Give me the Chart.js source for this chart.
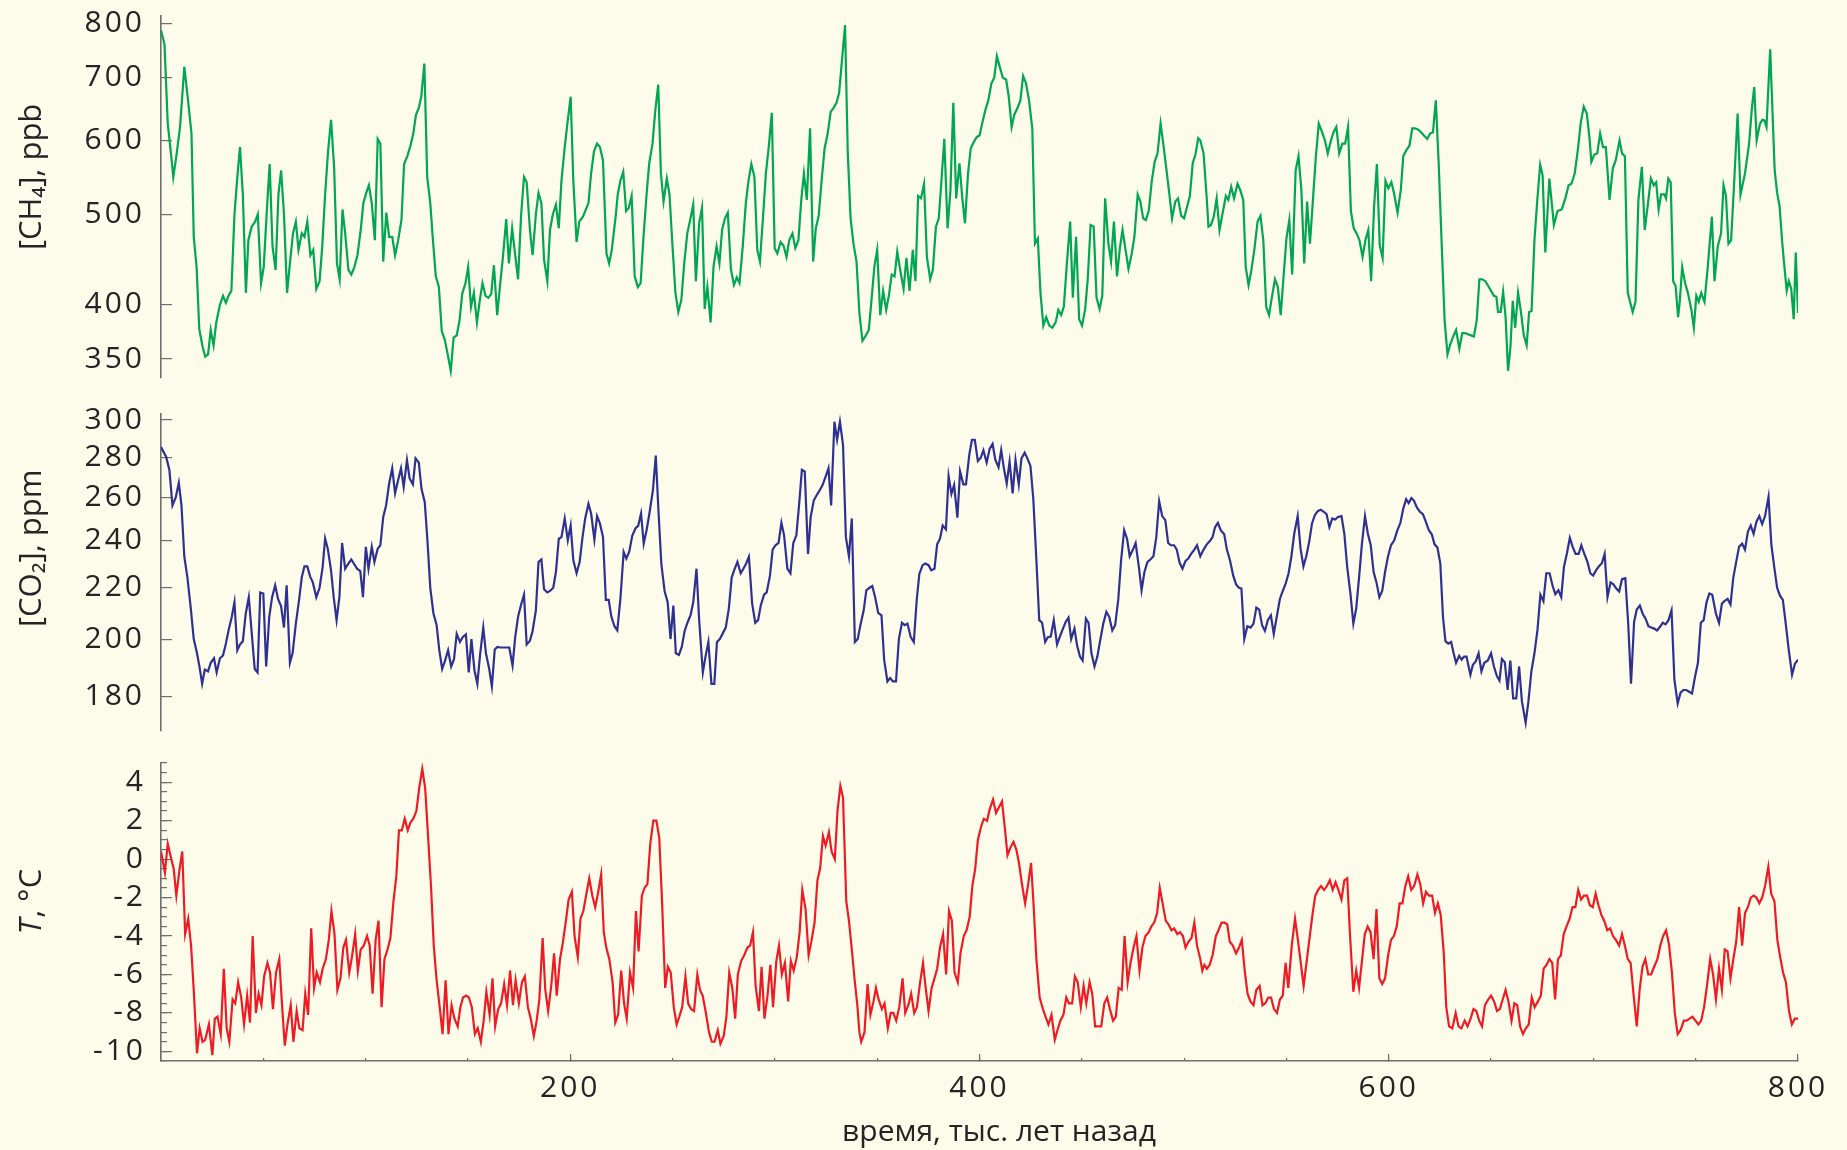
<!DOCTYPE html>
<html><head><meta charset="utf-8">
<script src="https://cdn.jsdelivr.net/npm/chart.js@4.4.1/dist/chart.umd.min.js"></script>
<style>
html,body{margin:0;padding:0;background:#fdfbea;}
#wrap{position:relative;width:1847px;height:1150px;background:#fdfbea;overflow:hidden;}
canvas{position:absolute;left:0;}
</style></head><body><div id="wrap">
<canvas id="c1" width="1847" height="400" style="top:0;width:1847px;height:400px"></canvas>
<canvas id="c2" width="1847" height="340" style="top:400px;width:1847px;height:340px"></canvas>
<canvas id="c3" width="1847" height="410" style="top:740px;width:1847px;height:410px"></canvas>
</div>
<script>
// [time (thousand years ago), value]
const ch4Data = [[0,787],[1.7,760],[3.3,625],[5,577],[6,548],[7.5,577],[9.3,620],[11.4,719],[12.9,672],[14.9,610],[16,473],[17.4,439],[18.7,377],[20.3,361],[21.6,352],[23,354],[24.3,376],[25.7,362],[27,383],[28.8,400],[30.3,409],[31.7,402],[33,409],[34.4,414],[35.9,500],[37.3,548],[38.6,590],[40,525],[41.5,412],[42.7,469],[44.3,485],[46,491],[47.3,500],[48.9,422],[50.2,439],[51.8,508],[53.1,566],[54.5,462],[56,436],[57.4,525],[58.7,557],[60.1,500],[61.6,412],[63,443],[64.5,477],[65.9,491],[67.2,458],[68.8,477],[70.1,473],[71.5,491],[73,452],[74.4,458],[75.9,416],[77.5,424],[78.8,462],[80.2,525],[81.7,586],[83.1,631],[84.6,562],[86,443],[87.3,426],[88.7,506],[90,477],[91.6,436],[93,431],[94.5,439],[96,452],[97.6,481],[98.9,514],[100.3,527],[101.6,537],[103,514],[104.5,469],[105.9,602],[107.2,595],[108.6,445],[110.1,502],[111.5,473],[113,473],[114.4,452],[115.9,469],[117.5,493],[118.8,566],[120.4,577],[121.9,592],[123.3,610],[124.6,639],[126,650],[127.2,668],[128.7,725],[130.1,548],[131.6,514],[132.9,469],[134.3,429],[135.8,418],[137.2,375],[138.7,367],[140.1,354],[141.6,340],[143,369],[144.5,371],[145.9,385],[147.2,411],[148.8,422],[150.1,439],[151.5,398],[152.9,412],[154.4,383],[155.7,403],[157.1,422],[158.6,409],[160,407],[161.4,411],[162.7,441],[164.3,390],[165.8,422],[167.1,450],[168.7,494],[170,443],[171.6,483],[173,454],[174.5,426],[176,500],[177.4,548],[178.7,541],[180.3,481],[181.6,452],[183.2,500],[184.5,527],[185.9,514],[187.2,447],[188.8,424],[190.1,481],[191.5,500],[193,512],[194.4,483],[195.7,543],[197.3,590],[198.6,625],[200.2,668],[201.5,543],[203.1,467],[204.4,491],[206.2,497],[208.9,514],[210.2,553],[211.6,584],[213.1,595],
[214.5,590],[216,571],[217.7,454],[219,443],[220.3,458],[222.3,500],[223.2,525],[224.5,543],[225.9,555],[227.3,504],[228.6,508],[230,523],[231.5,429],[233,418],[234.4,422],[235.8,473],[237.3,525],[238.6,567],[240.2,595],[241.6,647],[243,688],[244.3,553],[245.6,516],[247.2,546],[248.5,525],[249.9,465],[251.4,412],[252.8,393],[254.3,405],[255.7,443],[257.2,477],[258.6,493],[260.1,512],[261.4,424],[263,489],[264.4,508],[265.7,396],[267,418],[268.6,383],[270,439],[271.5,462],[272.9,443],[274.2,481],[275.6,495],[277,502],[278.5,437],[280,420],[281.4,428],[282.7,422],[284.3,462],[285.8,514],[287.1,543],[288.5,566],[290,548],[291.4,458],[292.7,445],[294.3,500],[295.6,553],[297,590],[298.5,642],[299.9,460],[301.2,454],[302.8,467],[304.2,463],[305.7,450],[307,469],[308.6,477],[310,460],[311.5,469],[312.9,518],[314.2,553],[315.6,518],[317.2,618],[318.7,445],[320,483],[321.4,498],[323,548],[324.3,588],[325.8,610],[327.3,644],[328.7,650],[330.1,658],[331.4,674],[332.8,731],[334.3,797],[335.6,584],[337,495],[338.4,465],[339.9,445],[341.3,392],[342.8,366],[344.2,370],[345.9,376],[347.1,402],[348.6,439],[350,458],[351.5,390],[352.9,414],[354.4,395],[355.7,409],[357.1,431],[358.5,429],[359.8,456],[361.4,434],[362.9,416],[364.3,449],[365.8,414],[367.4,458],[368.7,424],[370,523],[371.4,520],[372.9,539],[374.3,450],[375.9,426],[377.2,436],[378.7,485],[380.1,495],[381.4,543],[382.8,602],[384.4,483],[385.8,530],[387.2,658],[388.6,520],[390.2,567],[391.6,520],[392.9,489],[394.4,553],[395.7,588],[397.3,598],[398.7,605],[400,607],[401.5,628],[402.9,647],[404.3,662],[405.8,690],[407.2,700],[408.5,738],[409.9,719],[411.4,700],[413,697],[414.3,668],[415.7,620],[417,639],[418.6,650],[420,662],[421.3,703],[422.7,691],[424.2,662],[425.8,618],[427.1,465],[428.5,471],[429.8,412],[431.2,380],[432.6,388],[434.1,380],[435.6,378],[437.2,383],[438.5,395],[439.9,390],[441.2,398],[442.7,443],[444.3,491],[445.6,407],[447.2,473],[448.7,386],[450.1,380],[451.6,395],[452.9,426],[454.3,487],[455.8,485],[457.2,407],[458.7,396],[460,409],[461.4,520],[463,465],[464.3,445],[465.7,491],[467.2,429],[468.6,460],[469.9,481],[472.8,437],[474.4,454],[475.7,473],[477.3,525],[478.6,516],[480,495],[481.3,493],[482.7,504],[484.2,543],[485.6,569],[487,581],[488.5,625],[489.8,595],[491.4,557],[492.8,525],[494.1,495],[495.7,516],[497,520],[498.6,498],[500,495],[501.3,508],[502.8,523],[504.2,567],[505.5,579],[506.9,603],
[507.9,600],[509.5,581],[511.1,518],[511.9,485],[513.1,487],[514.5,497],[515.9,520],[517.3,481],[518.7,500],[520.4,523],[521.6,518],[523,535],[524.4,520],[526.1,539],[527.4,531],[528.9,518],[530.1,439],[531.5,420],[532.9,436],[534.3,458],[535.9,491],[537.3,498],[538.7,469],[540.1,398],[541.5,390],[543,409],[544.4,426],[545.8,418],[547.2,390],[548.6,429],[550,471],[551.4,493],[552.8,431],[554.5,557],[555.9,577],[557.3,531],[558.7,443],[560.1,516],[561.5,465],[563,520],[564.4,577],[565.8,625],[567.2,614],[568.8,600],[570.2,581],[571.6,598],[573,612],[574.4,620],[575.8,581],[577.3,595],[578.7,595],[580.1,620],[581.5,504],[582.9,483],[584.3,477],[585.7,469],[587.2,450],[588.6,469],[590,481],[591.4,424],[592.8,508],[594.2,566],[595.6,463],[597,449],[598.4,543],[599.8,533],[601.3,541],[602.7,525],[604.3,502],[605.9,531],[607.1,577],[608.7,586],[610.1,592],[611.5,618],[612.9,618],[614.4,616],[615.8,612],[617.2,607],[618.8,602],[620.2,610],[621.6,612],[623,662],[624.4,567],[625.8,469],[627.3,385],[628.7,354],[630.1,363],[631.5,370],[632.9,376],[634.5,359],[635.9,373],[637.3,373],[638.7,372],[640.2,371],[641.6,370],[643,385],[644.3,426],[645.7,426],[647.2,424],[648.6,419],[650,414],[651.4,409],[652.6,408],[653.4,393],[654.7,393],[655.9,413],[657.1,388],[658.3,340],[659.5,361],[660.6,404],[661.8,378],[663.2,412],[664.6,393],[666,371],[667.4,362],[668.6,393],[669.8,394],[671.2,469],[672.6,518],[674,565],[675.2,550],[676.5,455],[678.5,546],[680.7,487],[682.5,504],[684.5,506],[686.3,520],[687.9,537],[689.3,539],[690.9,553],[692.5,588],[693.9,628],[695.3,652],[696.8,641],[698.2,600],[699,569],[700.4,579],[701.9,581],[703.3,610],[704.7,590],[706.1,590],[707.9,518],[709.5,560],[710.9,571],[712.8,600],[714,581],[715.4,577],[716.8,412],[719.2,393],[720.6,403],[722,518],[723.7,562],[725.1,481],[726.7,514],[728.1,546],[729.5,537],[730.7,541],[731.9,506],[733.1,525],[734.7,525],[735.5,520],[736.6,546],[737.8,541],[739,424],[740.2,419],[741.4,388],[742.2,403],[743.4,439],[744.8,422],[746.2,412],[747.9,395],[749.1,378],[750.3,409],[751.5,403],[752.7,412],[754.3,403],[755.9,439],[757.9,497],[759.2,424],[760.8,462],[762.4,477],[763.6,537],[764.8,523],[766,465],[767.3,469],[768.5,525],[770.5,641],[771.9,525],[774.1,553],[776.1,595],[777.4,647],[778.6,684],[779.8,600],[781.4,625],[782.6,631],[783.6,630],[784.6,620],[786.4,751],[788.6,557],[789.8,527],[791,510],[792.2,469],[793.2,443],[794.5,414],[795.5,424],[796.7,416],[797.9,386],[798.9,455],[800,392]];

const co2Data = [[0,285.4],[2.5,280.4],[4.1,273.6],[5.6,256.2],[7.2,260],[8.7,267.1],[10,256.2],[11.4,233],[12.9,224.3],[14.5,212.3],[16,200.1],[17.6,194.9],[18.9,189.7],[20.1,184.2],[21.4,189.1],[23,188.5],[24.3,191.5],[25.9,193.1],[27.2,188.1],[28.8,193.1],[30.3,194.1],[31.7,198.4],[33,203.3],[34.6,208.5],[35.9,214.2],[37.3,196],[38.6,198.1],[40,199.3],[41.4,209.7],[42.9,216.2],[44.3,202.7],[45.8,189.3],[47.2,188.1],[48.5,218.1],[50,217.7],[51.4,190.2],[52.9,208.5],[54.3,216.2],[55.8,221],[57.2,215.5],[58.7,212.6],[60.1,204.4],[61.4,221],[63,191.5],[64.3,194.9],[65.9,205.9],[67.4,214.6],[68.8,224.3],[70.1,228.9],[71.5,228.9],[72.9,224.6],[74.2,222.2],[75.9,216.2],[77.5,220],[79,228.6],[80.2,241],[81.5,236.5],[83.1,227.2],[84.4,216.2],[85.8,207.2],[87.2,216.4],[88.5,239],[90,227.9],[91.4,229.8],[93,231.8],[94.3,230],[95.8,227.9],[97.4,226.9],[98.7,216.2],[100.1,237.3],[101.4,227.9],[103,237.3],[104.3,230.8],[105.9,236.5],[107.2,238],[108.6,250.8],[110,256.2],[111.5,266.8],[113,274.4],[114.4,262],[115.9,268.5],[117.3,274.4],[118.6,265.1],[120.2,278.6],[121.5,269.3],[123.1,266.4],[124.4,279.5],[126,277.3],[127.3,264.2],[128.9,257.7],[130.2,240.2],[131.6,220],[133.1,210],[134.7,205.3],[136,196],[137.4,189.3],[138.7,192],[140.3,196],[141.8,190.2],[143.2,192.8],[144.5,202],[146.1,199],[147.4,200.8],[149,201.8],[150.4,188.1],[151.7,200.1],[153.2,188.8],[154.6,184.2],[156,194.9],[157.5,204.4],[158.8,194.9],[160.4,189.3],[161.7,183.3],[163.1,196.3],[164.4,197.2],[166,197],[167.3,197],[168.9,197],[170.2,197],[171.8,190.5],[173.1,200.8],[174.5,208.5],[176,213.3],[177.4,217.2],[178.7,198.1],[180.3,199.5],[181.6,203.1],[183.2,211],[184.5,230.8],[185.9,231.8],[187.2,219.4],[188.8,218.1],[190.1,218.7],[191.7,220],[193,226.5],[194.4,240.9],[195.7,241.6],[197.3,250.1],[198.8,240.2],[200.2,246.9],[201.5,231.5],[203.1,226],[204.6,230.8],[206,241.6],[207.3,250.1],[208.9,257],[210.2,252.4],[211.8,240.5],[213.1,251.2],
[214.5,247.8],[216,241.7],[217.4,215.1],[218.8,215.1],[220.1,208.5],[221.6,204.9],[223,203.3],[224.5,215.5],[226.1,235.1],[227.4,232.2],[228.8,235.1],[230.3,242.2],[231.9,245.6],[233.2,246.7],[234.6,252.4],[235.9,238.7],[237.3,244.7],[238.8,253.1],[240.4,263.5],[241.8,280.9],[243.1,253.9],[244.5,230.1],[246.1,218.7],[247.6,214.2],[249,200.1],[250.4,212.9],[251.6,194.9],[253.1,194.3],[254.5,197.2],[255.9,203.1],[257.4,206.5],[258.8,209.1],[260.1,214.2],[261.7,227.9],[263,207.2],[264.8,188.1],[266.1,193.7],[267.5,199],[269,184.2],[270.4,184.2],[271.7,199],[273.1,200.1],[274.6,202.3],[276,204.4],[277.5,211.7],[278.9,224.3],[280.4,227.9],[281.7,230.8],[283.3,226],[284.6,227.9],[285.9,230],[287.3,233],[288.9,213.6],[290.4,206.2],[291.8,207.2],[293.1,212.9],[294.7,217.2],[296,218.1],[297.6,225],[298.9,236.1],[300.3,238],[301.8,239],[303.2,248.1],[304.5,242.4],[306.1,227.9],[307.6,226],[309,239],[310.5,242.4],[311.9,257.3],[313.2,273.6],[314.6,272.8],[316.2,234.2],[317.5,250.8],[319,258.5],[320.6,261.4],[321.9,263.5],[323.3,266],[324.8,270.2],[326.2,274.4],[327.5,256.2],[329.1,299.1],[330.4,289.3],[331.8,299.1],[333.3,286.6],[334.7,241.6],[336.2,233.2],[337.6,250.1],[339.1,199],[340.5,200.1],[341.8,205.3],[343.4,211],[344.7,219],[346.3,220],[347.6,220.7],[349,216.2],[350.5,210],[352.1,209.1],[353.4,192.6],[355,185],[356.3,186.2],[357.7,185],[359.2,185],[360.6,200.1],[362.1,206.2],[363.5,205.3],[364.8,205.9],[366.4,200.8],[367.9,199],[369.3,214.9],[370.6,225.7],[372.2,229.4],[373.5,230.1],[375.1,229.4],[376.4,227.2],[378,227.9],[379.3,238.4],[380.7,240.9],[382,246.9],[383.6,245.1],[384.9,270.5],[386.3,261.7],[387.6,266],[389.2,250.5],[390.5,272.8],[392.1,266.4],[393.4,266.4],[395,281.3],[396.3,289.3],[397.7,289.3],[399.2,278.1],[400.6,279.8],[401.9,283.7],[403.5,277.3],[405,284.6],[406.4,287.1],[407.7,278.9],[409.3,274.9],[410.6,283.8],[412,273.9],[413.3,266.8],[414.7,277.8],[416.2,262],[417.6,278.6],[419.2,266.4],[420.5,279.5],[422.1,282.5],[423.4,279.5],[424.9,275.6],[426.3,259.2],[427.8,231.5],[429.2,207.2],[430.6,206.2],[432.1,199],[433.4,200.8],[434.8,201],[436.3,207.2],[437.9,198.1],[439.2,200.8],[440.6,203.6],[442.1,206.5],[443.5,208.2],[444.8,200.1],[446.4,204],[447.7,197.7],[449.1,193.7],[450.4,192.3],[452,207.8],[453.3,206.2],[454.7,194.9],[456.2,190.2],[457.6,193.7],[459.1,200.1],[460.5,205.9],[462,210.4],[463.4,208.5],[464.9,203.3],[466.3,205.3],[467.8,215.1],[469.2,231.5],[470.7,244.7],[472.1,240.9],[473.4,233.2],[475,236.1],[476.3,239],[477.9,228.6],[479.2,219],[480.6,226.5],[482.1,230.8],[483.5,231.8],[485,233.2],[486.4,241.6],[487.8,258.2],[489.3,251.2],[490.8,249.3],[492.2,239],[493.5,238],[495.1,238],[496.4,236.1],[497.8,230.4],[499.2,227.9],[500.7,231.2],[502,232.2],[503.4,234.2],[505,236.1],[506.3,238],
[507.9,233.2],[509.5,236.1],[511.1,238.4],[512.7,240],[513.9,241.6],[515.1,246.1],[516.5,248.1],[517.9,244.7],[519.6,242.9],[520.9,236.1],[522.4,231.5],[524,225],[525.4,221.4],[526.8,220],[528,219.7],[529.4,200.1],[530.9,204.9],[532.5,204.4],[533.9,205.9],[535.3,212.1],[536.7,211.3],[538.1,205.3],[539.5,203.1],[540.9,207.2],[542.4,209.1],[543.8,202],[545.4,209.1],[546.8,215.5],[548.2,218.7],[549.6,221.7],[551,225.8],[552.4,233],[553.8,243.1],[555.5,251.2],[556.9,236.5],[558.3,228.9],[559.7,233.2],[561.1,239.4],[562.5,247.8],[563.9,251.7],[565.4,253.6],[566.8,254.2],[568.4,253.1],[569.6,252.1],[571,246.1],[572.4,250.1],[573.8,249.6],[575.2,250.8],[576.9,251.2],[578.3,243.1],[579.7,228.6],[581.3,217.4],[582.7,205.9],[584.1,211.7],[585.5,224.3],[586.9,238.7],[588.4,251.2],[589.8,243.1],[591.2,238],[592.6,226.5],[594,222.2],[595.4,216.2],[596.8,218.7],[598.2,226.5],[599.6,233],[601.1,238],[602.7,240.2],[604.1,244.4],[605.7,248.1],[607.1,254.7],[608.5,259.2],[609.7,257.3],[611.1,259.7],[612.3,258.5],[613.8,255.1],[615.3,253.1],[616.7,252.1],[618.1,248.6],[619.6,244.7],[621,242.9],[622.4,238.4],[623.8,237],[625.2,230.1],[626.5,208.5],[627.7,199.3],[629.1,198.4],[630.5,199],[631.7,194.9],[632.9,191.5],[634.4,194],[635.6,192.6],[636.8,193.7],[638,193.7],[639.9,187.3],[641.1,190.8],[642.5,192],[643.9,194.9],[645.3,188.5],[646.7,191.5],[648.4,192.3],[650,194.9],[651.4,190.2],[652.8,186.9],[654.1,185.3],[655.3,192.8],[656.7,191.7],[658.1,182.1],[659.4,192.3],[660.8,179.3],[662.3,179.3],[663.7,190.2],[665.1,178.2],[666.9,171.4],[668.2,177.9],[669.7,188.5],[671.2,194.9],[672.7,203.6],[674.1,217.2],[675.6,214.6],[677,226],[678.6,226],[680.1,220.7],[681.4,217.4],[682.9,219],[684.3,216.2],[685.6,228.6],[687.1,234.6],[688.5,241.3],[689.9,237.3],[691.3,234.2],[692.8,234.2],[694.1,238],[695.5,234.5],[697.1,230.8],[698.5,226],[699.9,225],[701.3,227.2],[702.7,228.9],[704.1,230.1],[705.5,234.2],[706.9,216.2],[708.4,222.2],[709.8,221.4],[711.2,219.7],[712.6,218.5],[714,223.5],[715.6,223.9],[717,206.2],[718.4,184.2],[719.9,206.5],[721.2,211.3],[722.7,212.9],[724.1,209.7],[725.5,207.8],[726.9,204.9],[728.3,204.4],[729.7,204],[731.1,203.3],[732.5,204.6],[733.9,206.2],[735.3,205.6],[736.7,207.2],[738.2,211],[739.6,185.6],[741.2,177.6],[742.6,181.2],[744,182.1],[745.4,182.1],[746.8,181.5],[748.2,180.9],[749.7,186.7],[751.1,191.5],[752.5,206.2],[753.9,207.2],[755.3,214.2],[756.7,217.7],[758.1,217.2],[759.9,209.7],[761.4,206.2],[762.8,213.6],[764,214.6],[765.6,215.5],[767,213.3],[768.4,224.3],[769.8,230.8],[771.2,237.3],[772.7,238.7],[774.1,236.1],[775.5,244],[776.9,246.9],[778.3,243.1],[779.7,248.6],[781.1,251.2],[782.5,247.5],[783.9,251.2],[785.6,260.3],[787,238],[788.4,228.6],[789.8,220],[791.2,216.8],[792.6,215.1],[794,205.9],[795.5,196],[797.1,187.3],[798.5,191.2],[800,192.6]];

const tempData = [[0,0.4],[1.9,-0.7],[3.3,0.8],[4.6,0.2],[6.2,-0.5],[7.5,-1.9],[9.1,-0.5],[10.4,0.4],[11.8,-3.9],[13.3,-3.1],[14.7,-4.5],[16,-6.8],[17.6,-10.1],[18.9,-8.8],[20.3,-9.5],[21.6,-9.4],[23.4,-8.6],[25.1,-10.2],[26.3,-8.3],[27.6,-8.2],[29.2,-9.1],[30.7,-5.7],[32.1,-8.8],[33.4,-9.5],[35,-7.3],[36.3,-7.5],[37.7,-6.4],[39.2,-7.2],[40.6,-8.6],[42.1,-7.1],[43.5,-8.5],[44.8,-4.0],[46.4,-8.0],[47.7,-7.0],[49.1,-7.6],[50.4,-6.1],[52,-5.4],[53.3,-5.9],[54.7,-7.8],[56.2,-5.9],[57.8,-5.2],[59.1,-7.5],[60.5,-9.7],[61.8,-8.6],[63.4,-7.6],[64.7,-9.5],[66.3,-7.9],[67.6,-8.8],[69.2,-8.9],[70.5,-7.0],[71.9,-8.1],[73.4,-3.6],[74.8,-6.7],[76.1,-5.9],[77.7,-6.4],[79,-5.7],[80.6,-5.2],[82,-4.2],[83.3,-2.7],[84.8,-3.9],[86.2,-6.8],[87.7,-6.2],[89.1,-4.6],[90.4,-4.2],[92,-5.9],[93.3,-5.1],[94.9,-3.9],[96.2,-5.8],[97.6,-4.7],[99.1,-4.5],[100.7,-4.0],[102,-4.5],[103.4,-7.0],[104.9,-4.2],[106.3,-3.2],[107.8,-7.7],[109.2,-5.2],[110.7,-4.7],[112.1,-4.1],[113.6,-2.2],[115,-0.9],[116.3,1.5],[117.7,1.5],[119.1,2.1],[120.6,1.5],[121.9,1.9],[123.3,2.1],[124.8,2.5],[126.2,3.7],[127.7,4.7],[129.1,3.7],[130.4,1.4],[132,-1.5],[133.3,-4.5],[134.7,-6.3],[136.2,-7.7],[137.6,-9.1],[139.1,-6.3],[140.5,-9.1],[142,-7.6],[143.4,-8.3],[145,-8.7],[146.3,-7.7],[147.6,-7.2],[149.2,-7.1],[150.5,-7.2],[151.9,-7.7],[153.4,-9.1],[154.8,-8.8],[156.3,-9.5],[157.7,-8.4],[159,-6.9],[160.6,-8.1],[162,-6.2],[163.3,-8.7],[164.8,-7.8],[166.2,-7.5],[167.7,-6.5],[169.1,-7.6],[170.6,-5.8],[172,-7.6],[173.3,-6.3],[174.9,-7.5],[176.4,-6.4],[177.8,-6.1],[179.3,-7.7],[180.7,-8.3],[182.2,-9.2],[183.6,-8.4],[184.9,-7.3],[186.5,-4.1],[187.8,-6.8],[189.2,-7.9],[190.7,-6.6],[192.1,-4.9],[193.4,-7.1],[195,-5.2],[196.3,-4.4],[197.9,-3.2],[199.2,-2.1],[200.8,-1.7],[202.1,-4.0],[203.7,-5.1],[205,-3.1],[206.4,-2.7],[207.9,-1.8],[209.3,-1.0],[210.8,-1.9],[212.2,-2.5],[213.5,-1.8],[215.1,-0.8],
[216.4,-3.8],[217.6,-4.6],[219.1,-5.2],[220.7,-6.4],[222,-8.5],[223.4,-8.1],[224.9,-5.8],[226.3,-7.5],[227.6,-8.3],[229.2,-5.9],[230.7,-6.7],[232.1,-2.7],[233.4,-4.8],[235,-1.9],[236.3,-1.5],[237.7,-1.3],[239.1,0.8],[240.6,2.0],[242.1,2.0],[243.5,1.1],[244.9,-2.3],[246.4,-6.7],[247.7,-5.6],[249.1,-5.9],[250.6,-7.7],[252,-8.6],[253.3,-8.2],[254.7,-7.7],[256.3,-6.1],[257.6,-7.5],[259,-7.8],[260.5,-7.9],[262.1,-6.0],[263.4,-6.8],[264.7,-7.1],[266.3,-8.0],[267.8,-9.0],[269.2,-9.5],[270.5,-9.5],[272.1,-8.9],[273.4,-9.6],[275,-9.2],[276.3,-8.2],[277.7,-5.9],[279.2,-6.7],[280.6,-8.3],[281.9,-6.0],[283.5,-5.3],[285,-5.0],[286.6,-4.6],[287.9,-4.5],[289.3,-3.8],[290.6,-6.6],[292.2,-7.9],[293.5,-5.6],[294.9,-8.3],[296.4,-7.1],[297.8,-5.5],[299.1,-7.7],[300.7,-5.3],[302,-4.5],[303.4,-6.0],[304.9,-5.4],[306.5,-7.4],[307.8,-5.3],[309.2,-5.8],[310.7,-5.1],[312.1,-3.8],[313.4,-1.6],[315,-2.6],[316.5,-5.0],[317.8,-4.3],[319.4,-3.3],[320.8,-1.1],[322.1,-0.5],[323.5,1.2],[324.8,0.7],[326.4,1.4],[327.7,0.4],[329.3,0.0],[330.6,2.5],[332,3.8],[333.3,3.2],[334.9,-2.2],[336.2,-3.2],[337.6,-4.7],[339,-6.3],[340.3,-7.6],[341.3,-9.0],[342.2,-9.5],[343.8,-9.0],[345.3,-6.5],[346.7,-8.1],[348.2,-7.4],[349.4,-6.7],[350.7,-7.3],[352.3,-7.8],[353.6,-7.5],[355.2,-8.8],[356.6,-8.0],[357.9,-8.0],[359.3,-8.4],[360.8,-7.7],[362.4,-6.2],[363.7,-8.0],[365.2,-7.6],[366.6,-7.0],[368.1,-8.0],[369.4,-7.7],[371,-6.4],[372.4,-5.4],[373.7,-6.7],[375.1,-7.9],[376.6,-6.7],[378,-6.2],[379.3,-5.7],[380.7,-4.6],[382.2,-3.9],[383.7,-6.0],[385.1,-2.7],[386.5,-3.2],[387.8,-5.9],[389.4,-6.4],[390.7,-4.9],[392.3,-4.0],[393.7,-3.7],[395.2,-3.0],[396.5,-1.4],[397.9,-0.5],[399.2,1.0],[400.8,1.7],[402.1,2.1],[403.7,2.0],[405,2.6],[406.6,3.1],[408.1,2.4],[409.5,2.7],[411,3.0],[412.4,1.6],[413.7,0.2],[415.1,0.6],[416.6,0.9],[418,0.5],[419.3,-0.2],[420.9,-1.4],[422.3,-2.3],[423.8,-1.3],[425.2,-0.2],[426.5,-2.5],[427.8,-5.2],[429.4,-7.2],[431,-7.8],[432.3,-8.2],[433.7,-8.6],[435.2,-8.1],[436.8,-9.4],[438.1,-8.9],[439.5,-8.4],[441,-8.1],[442.4,-7.2],[443.7,-7.5],[445.3,-7.5],[446.6,-6.1],[448,-6.4],[449.5,-7.7],[450.9,-6.6],[452.2,-7.5],[453.8,-6.4],[455.1,-7.0],[456.5,-8.7],[458,-8.7],[459.5,-8.7],[461,-7.5],[462.4,-7.2],[463.7,-7.8],[465.3,-8.4],[466.6,-8.2],[468,-6.7],[469.5,-6.8],[470.9,-4.0],[472.4,-6.4],[473.8,-5.4],[475.3,-4.6],[476.7,-4.0],[478.2,-5.8],[479.6,-4.6],[481.1,-4.0],[482.7,-3.8],[484,-3.5],[485.4,-3.3],[486.8,-2.8],[488.1,-1.5],[489.5,-2.3],[491,-3.2],[492.4,-3.4],[493.8,-3.7],[495.1,-3.6],[496.7,-3.9],[498,-3.8],[499.4,-4.0],[500.7,-4.6],[502.1,-4.3],[503.6,-4.1],[505,-3.3],[506.3,-4.5],
[507.9,-5.2],[508.9,-5.8],[509.9,-5.5],[511.1,-5.7],[512.5,-5.5],[513.9,-5.0],[515.5,-4.0],[516.8,-3.7],[518.3,-3.3],[519.7,-3.3],[521.1,-3.4],[522.3,-4.3],[523.8,-4.5],[525.4,-4.9],[526.8,-4.6],[528.2,-4.2],[529.6,-5.8],[531,-7.0],[532.4,-7.4],[533.9,-7.6],[535.3,-6.8],[536.9,-6.6],[538.3,-7.6],[539.7,-7.5],[541.1,-7.2],[542.5,-7.2],[543.9,-7.8],[545.4,-8.0],[546.8,-7.3],[548.2,-7.1],[549.6,-5.4],[550.9,-6.7],[552.6,-4.5],[554.2,-3.1],[555.6,-4.2],[557,-5.4],[558.4,-6.6],[559.9,-5.3],[561.3,-4.1],[562.7,-2.9],[564.1,-1.9],[565.5,-1.6],[566.9,-1.4],[568.4,-1.6],[569.8,-1.4],[571.2,-1.1],[572.6,-1.6],[574,-1.2],[575.4,-1.6],[576.9,-2.1],[578.3,-1.1],[579.7,-1.0],[581.1,-4.0],[582.7,-6.9],[584.1,-5.8],[585.5,-6.7],[586.9,-5.3],[588.3,-3.9],[589.7,-3.5],[591.1,-3.8],[592.6,-5.2],[594,-2.6],[595.4,-6.2],[596.8,-6.5],[598.2,-6.2],[599.7,-5.0],[601.1,-4.2],[602.5,-4.0],[603.9,-3.5],[605.3,-2.3],[606.7,-2.3],[608.1,-1.4],[609.5,-0.9],[611,-1.6],[612.4,-1.4],[614,-0.8],[615.4,-1.3],[616.8,-2.3],[618.2,-1.7],[619.6,-1.9],[621.2,-1.9],[622.6,-2.8],[624,-2.3],[625.4,-2.9],[626.9,-4.9],[628.1,-7.7],[629.5,-8.7],[631.1,-8.8],[632.7,-8.0],[634.1,-8.7],[635.5,-8.8],[637.1,-8.4],[638.5,-8.7],[640,-8.3],[641.4,-7.8],[642.8,-7.9],[644.2,-8.4],[645.6,-8.7],[647,-7.6],[648.6,-7.3],[650,-7.1],[651.5,-7.4],[652.9,-7.9],[654.3,-7.8],[655.7,-7.3],[657.1,-6.8],[658.5,-7.4],[660,-8.4],[661.4,-7.5],[662.8,-7.6],[664.2,-8.7],[665.6,-9.1],[667,-8.8],[668.4,-8.6],[669.9,-7.2],[671.3,-7.7],[672.9,-7.4],[674.3,-7.1],[675.7,-5.7],[677.1,-5.5],[678.5,-5.2],[679.9,-5.4],[681.3,-7.3],[682.7,-5.2],[684.1,-5.0],[685.5,-3.9],[686.9,-3.5],[688.4,-3.1],[689.8,-2.5],[691.2,-2.5],[692.6,-1.6],[694,-2.1],[695.4,-1.9],[696.9,-1.9],[698.3,-2.4],[699.7,-2.5],[701.1,-1.8],[702.5,-2.4],[703.9,-2.9],[705.3,-3.2],[706.8,-3.7],[708.2,-3.6],[709.6,-4.0],[711,-4.2],[712.6,-4.5],[714,-3.9],[715.4,-4.5],[716.8,-5.2],[718.2,-5.4],[719.6,-7.0],[721.2,-8.7],[722.6,-6.8],[724,-5.6],[725.4,-5.2],[726.8,-6.0],[728.2,-6.0],[729.7,-5.6],[731.3,-5.2],[732.7,-4.5],[734.1,-4.0],[735.5,-3.7],[736.9,-4.4],[738.4,-5.9],[739.8,-8.0],[741.2,-9.1],[742.6,-8.9],[744.2,-8.4],[745.6,-8.4],[747,-8.3],[748.4,-8.2],[749.9,-8.4],[751.3,-8.6],[752.7,-8.4],[754.1,-7.7],[755.5,-6.6],[757.1,-5.2],[758.5,-6.0],[759.9,-7.3],[761.4,-5.7],[762.8,-6.8],[764.2,-4.7],[765.6,-4.8],[767,-6.2],[768.4,-5.2],[769.8,-4.3],[771.2,-2.5],[772.7,-4.5],[774.1,-2.8],[775.5,-2.5],[776.9,-2.0],[778.3,-1.9],[779.7,-2.0],[781.1,-2.3],[782.5,-2.0],[783.9,-1.4],[785.5,-0.4],[786.9,-1.8],[788.5,-2.2],[789.9,-4.2],[791.3,-5.1],[792.7,-5.9],[794.1,-6.4],[795.6,-7.9],[797,-8.6],[798.4,-8.3],[800,-8.3]];

const ch4Ticks = [350, 400, 500, 600, 700, 800];
const co2Ticks = [180, 200, 220, 240, 260, 280, 300];
const tempTicks = [-10, -8, -6, -4, -2, 0, 2, 4];
const tempMinorTicks = [-10.5,-10,-9.5,-9,-8.5,-8,-7.5,-7,-6.5,-6,-5.5,-5,-4.5,-4,-3.5,-3,-2.5,-2,-1.5,-1,-0.5,0,0.5,1,1.5,2,2.5,3,3.5,4,4.5,5];
const timeTicks = [0, 200, 400, 600, 800];
const timeMinorTicks = [0,50,100,150,200,250,300,350,400,450,500,550,600,650,700,750,800];
const xTitle = 'время, тыс. лет назад';
const ch4Title = '[CH₄], ppb';
const co2Title = '[CO₂], ppm';
const tempTitle = 'T, °C';

const FONT = "'Open Sans', 'DejaVu Sans', sans-serif";
const TEXT = '#262324';
const AXIS = '#6f6f6f';
Chart.defaults.font.family = FONT;
Chart.defaults.color = TEXT;

const pts = arr => arr.map(p => ({x: p[0], y: p[1]}));
const setTicks = list => (s => { s.ticks = list.map(v => ({value: v})); });

// wider digit spacing for tick labels
function spaced(s) {
  if (s._spacedLabels) return;
  s._spacedLabels = true;
  const orig = s.drawLabels;
  s.drawLabels = function (ca) {
    const ctx = this.ctx;
    ctx.save();
    if ('letterSpacing' in ctx) ctx.letterSpacing = '3px';
    orig.call(this, ca);
    ctx.restore();
  };
}

// axis title whose first letter is italic (the symbol T)
function italicSymbolTitle(s, shiftUp) {
  if (s._italicTitle) return;
  s._italicTitle = true;
  s.drawTitle = function () {
    const o = this.options.title;
    const ctx = this.ctx;
    const size = o.font.size;
    const text = String(o.text).trim();
    const first = text.charAt(0), rest = text.slice(1);
    const x = this.left + 14 + size * 1.2 / 2;
    const y = (this.top + this.bottom) / 2;
    ctx.save();
    ctx.translate(x, y);
    ctx.rotate(-Math.PI / 2);
    ctx.textBaseline = 'middle';
    ctx.textAlign = 'left';
    ctx.fillStyle = o.color;
    ctx.font = 'italic ' + size + 'px ' + FONT;
    const w1 = ctx.measureText(first).width;
    ctx.font = size + 'px ' + FONT;
    const w2 = ctx.measureText(rest).width;
    const start = -(w1 + w2) / 2 + shiftUp;
    ctx.font = 'italic ' + size + 'px ' + FONT;
    ctx.fillText(first, start, 0);
    ctx.font = size + 'px ' + FONT;
    ctx.fillText(rest, start + w1 + 1, 0);
    ctx.restore();
  };
}

function lineSet(data, color) {
  return {data: pts(data), borderColor: color, borderWidth: 2.2, pointRadius: 0, tension: 0, fill: false};
}
function yMain(extra) {
  return Object.assign({
    position: 'left', weight: 1,
    afterFit: s => { s.width = 161; s.paddingTop = 0; s.paddingBottom = 0; spaced(s); },
    ticks: {autoSkip: false, padding: 27, font: {size: 30}, color: TEXT, callback: v => String(v)},
    grid: {drawOnChartArea: false, drawTicks: true, tickLength: -11, color: AXIS, lineWidth: 1.2},
    border: {display: true, color: AXIS, width: 1.6}
  }, extra);
}
function titleOpt(text, shift) {
  return {display: true, text: ' '.repeat(shift) + text, color: TEXT, font: {size: 31}, padding: {top: 14, bottom: 0}};
}
const baseOpts = (pad) => ({
  responsive: false, animation: false, devicePixelRatio: 1,
  layout: {padding: pad},
  plugins: {legend: {display: false}, tooltip: {enabled: false}},
  events: []
});

// Panel 1 : CH4
new Chart(document.getElementById('c1'), {
  type: 'line',
  data: {datasets: [lineSet(ch4Data, '#00a651')]},
  options: Object.assign(baseOpts({top: 16, bottom: 22, left: 0, right: 49}), {
    scales: {
      x: {type: 'linear', min: 0, max: 800, display: false},
      y: yMain({type: 'logarithmic', min: 334, max: 815, afterBuildTicks: setTicks(ch4Ticks), title: titleOpt(ch4Title, 5)})
    }
  })
});

// Panel 2 : CO2
new Chart(document.getElementById('c2'), {
  type: 'line',
  data: {datasets: [lineSet(co2Data, '#2e3192')]},
  options: Object.assign(baseOpts({top: 14, bottom: 9, left: 0, right: 49}), {
    scales: {
      x: {type: 'linear', min: 0, max: 800, display: false},
      y: yMain({type: 'logarithmic', min: 168.8, max: 303.4, afterBuildTicks: setTicks(co2Ticks), title: titleOpt(co2Title, 6)})
    }
  })
});

// Panel 3 : temperature
new Chart(document.getElementById('c3'), {
  type: 'line',
  data: {datasets: [lineSet(tempData, '#ed1c24')]},
  options: Object.assign(baseOpts({top: 23, bottom: 0, left: 0, right: 49}), {
    scales: {
      x: {type: 'linear', min: 0, max: 800, position: 'bottom', weight: 1,
          afterBuildTicks: setTicks(timeTicks),
          afterFit: s => { s.height = 89; s.paddingLeft = 0; s.paddingRight = 0; spaced(s); },
          ticks: {autoSkip: false, maxRotation: 0, padding: 16, font: {size: 30}, color: TEXT, callback: v => (v === 0 ? '' : String(v))},
          grid: {drawOnChartArea: false, drawTicks: true, tickLength: -7, color: AXIS, lineWidth: 1.2},
          border: {display: true, color: AXIS, width: 1.6},
          title: {display: true, text: '     ' + xTitle, color: TEXT, font: {size: 30}, padding: {top: 0, bottom: 0}}},
      xMinor: {type: 'linear', min: 0, max: 800, position: 'bottom', weight: 0,
          afterBuildTicks: setTicks(timeMinorTicks),
          afterFit: s => { s.height = 0; s.paddingLeft = 0; s.paddingRight = 0; },
          ticks: {display: false},
          grid: {drawOnChartArea: false, drawTicks: true, tickLength: -3, color: AXIS, lineWidth: 1.2},
          border: {display: false}},
      y: yMain({type: 'linear', min: -10.5, max: 5, afterBuildTicks: setTicks(tempTicks), title: titleOpt(tempTitle, 0),
          afterFit: s => { s.width = 161; s.paddingTop = 0; s.paddingBottom = 0; spaced(s); italicSymbolTitle(s, 10); },
          ticks: {autoSkip: false, padding: 26, font: {size: 30}, color: TEXT, callback: v => String(v)}}),
      yMinor: {type: 'linear', min: -10.5, max: 5, position: 'left', weight: 0,
          afterBuildTicks: setTicks(tempMinorTicks),
          afterFit: s => { s.width = 0; s.paddingTop = 0; s.paddingBottom = 0; },
          ticks: {display: false},
          grid: {drawOnChartArea: false, drawTicks: true, tickLength: -6, color: AXIS, lineWidth: 1.2},
          border: {display: false}}
    }
  })
});
</script>
</body></html>
